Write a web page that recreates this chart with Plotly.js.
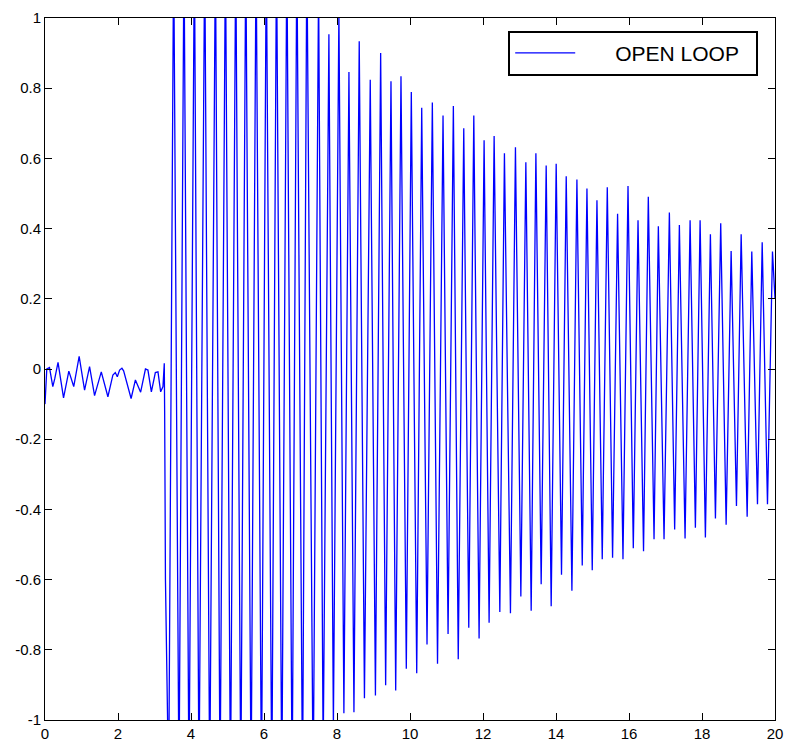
<!DOCTYPE html>
<html>
<head>
<meta charset="utf-8">
<script src="https://cdn.plot.ly/plotly-3.0.1.min.js"></script>
<style>html,body{margin:0;padding:0;background:#fff;}#chart{width:785px;height:749px;}</style>
</head>
<body>
<div id="chart"></div>
<script>
// Pre-instability small oscillation (time, value)
const preTime = [0.000,0.049,0.123,0.214,0.269,0.357,0.508,0.653,0.787,0.936,1.084,1.221,1.358,1.542,1.723,1.860,1.926,1.981,2.044,2.107,2.154,2.255,2.359,2.477,2.546,2.620,2.752,2.820,2.914,3.023,3.095,3.169,3.232,3.268,3.278,3.300];
const preValue = [-0.100,0.000,0.004,-0.050,-0.027,0.019,-0.082,-0.006,-0.050,0.036,-0.060,0.007,-0.076,-0.008,-0.079,-0.017,-0.010,-0.022,-0.003,0.002,-0.005,-0.046,-0.084,-0.031,-0.050,-0.066,0.000,-0.003,-0.065,-0.010,-0.008,-0.065,-0.050,0.016,-0.120,-0.600];

// Peaks of the large oscillation (values above 1 are off-scale, clipped by the axes)
const peakTime = [3.525,3.808,4.093,4.376,4.669,4.944,5.226,5.501,5.783,6.063,6.343,6.626,6.900,7.174,7.495,7.778,8.052,8.327,8.609,8.911,9.196,9.479,9.753,10.036,10.321,10.612,10.905,11.188,11.473,11.748,12.030,12.305,12.587,12.889,13.174,13.449,13.731,14.005,14.280,14.573,14.848,15.122,15.405,15.687,15.973,16.247,16.529,16.804,17.106,17.380,17.674,17.948,18.230,18.513,18.798,19.073,19.364,19.649,19.931];
const peakValue = [1.20,1.20,1.20,1.20,1.20,1.20,1.20,1.20,1.20,1.20,1.20,1.20,1.20,1.20,1.10,0.954,1.02,0.846,0.934,0.824,0.900,0.820,0.834,0.789,0.744,0.759,0.722,0.749,0.686,0.722,0.652,0.664,0.615,0.632,0.589,0.615,0.580,0.585,0.549,0.540,0.514,0.481,0.518,0.442,0.521,0.424,0.491,0.407,0.446,0.410,0.424,0.424,0.384,0.415,0.336,0.384,0.335,0.361,0.335];

// Troughs of the large oscillation
const troughTime = [3.388,3.671,3.945,4.219,4.513,4.796,5.081,5.364,5.646,5.931,6.214,6.488,6.771,7.056,7.347,7.621,7.901,8.189,8.464,8.752,9.053,9.333,9.608,9.899,10.184,10.466,10.754,11.043,11.322,11.610,11.893,12.167,12.461,12.752,13.037,13.320,13.594,13.868,14.151,14.436,14.719,14.993,15.267,15.550,15.835,16.118,16.398,16.686,16.960,17.251,17.536,17.819,18.093,18.368,18.661,18.944,19.237,19.520,19.794];
const troughValue = [-1.20,-1.20,-1.20,-1.20,-1.20,-1.20,-1.20,-1.20,-1.20,-1.20,-1.20,-1.20,-1.20,-1.20,-1.20,-1.10,-1.02,-0.981,-0.978,-0.938,-0.930,-0.901,-0.916,-0.854,-0.867,-0.785,-0.840,-0.755,-0.827,-0.737,-0.768,-0.723,-0.692,-0.696,-0.648,-0.689,-0.613,-0.676,-0.586,-0.632,-0.560,-0.573,-0.542,-0.538,-0.542,-0.511,-0.519,-0.485,-0.485,-0.457,-0.483,-0.452,-0.480,-0.426,-0.444,-0.390,-0.421,-0.385,-0.385];

const endTime = [20.0];
const endValue = [0.20];

const xTickVals = [0,2,4,6,8,10,12,14,16,18,20];
const xTickText = ['0','2','4','6','8','10','12','14','16','18','20'];
const yTickVals = [-1,-0.8,-0.6,-0.4,-0.2,0,0.2,0.4,0.6,0.8,1];
const yTickText = ['-1','-0.8','-0.6','-0.4','-0.2','0','0.2','0.4','0.6','0.8','1'];

const seriesName = 'OPEN LOOP';

// merge into one time-ordered series
const pts = [];
preTime.forEach((t,i)=>pts.push([t,preValue[i]]));
peakTime.forEach((t,i)=>pts.push([t,peakValue[i]]));
troughTime.forEach((t,i)=>pts.push([t,troughValue[i]]));
endTime.forEach((t,i)=>pts.push([t,endValue[i]]));
pts.sort((a,b)=>a[0]-b[0]);

const font = 'Liberation Sans, Arial, Helvetica, sans-serif';
const nb = '\u00a0';

const trace = {
  x: pts.map(p=>p[0]),
  y: pts.map(p=>p[1]),
  type: 'scatter',
  mode: 'lines',
  name: nb.repeat(6) + seriesName + nb.repeat(2),
  line: {color: '#0000ff', width: 1.3},
  hoverinfo: 'skip'
};

const axisCommon = {
  showgrid: false, zeroline: false, showline: true, linecolor: '#000', linewidth: 1,
  ticks: 'inside', ticklen: 7, tickwidth: 1, tickcolor: '#000', mirror: 'allticks',
  tickfont: {family: font, size: 15, color: '#000'}, tickmode: 'array', fixedrange: true
};

const layout = {
  width: 785, height: 749,
  margin: {l: 45, r: 10, t: 18, b: 29, pad: 0},
  paper_bgcolor: '#fff', plot_bgcolor: '#fff',
  showlegend: true,
  legend: {
    x: 0.977, xanchor: 'right', y: 0.982, yanchor: 'top',
    bordercolor: '#000', borderwidth: 2, bgcolor: '#fff',
    font: {family: font, size: 21, color: '#000'},
    itemwidth: 60
  },
  xaxis: Object.assign({}, axisCommon, {range: [0, 20], tickvals: xTickVals, ticktext: xTickText}),
  yaxis: Object.assign({}, axisCommon, {range: [-1, 1], tickvals: yTickVals, ticktext: yTickText})
};

Plotly.newPlot('chart', [trace], layout, {displayModeBar: false, staticPlot: true});
</script>
</body>
</html>
